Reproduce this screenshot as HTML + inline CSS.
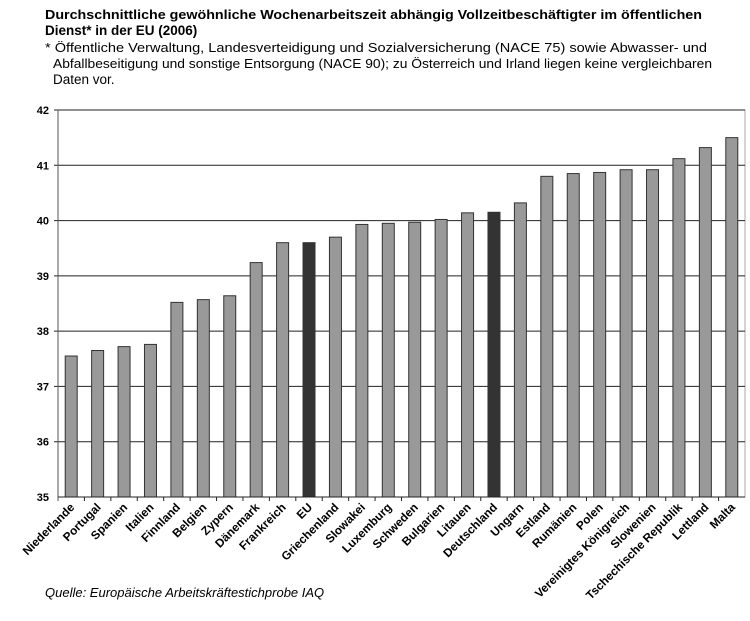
<!DOCTYPE html>
<html><head><meta charset="utf-8"><style>body{margin:0;background:#fff}svg{display:block}</style></head><body>
<svg width="750" height="621" xmlns="http://www.w3.org/2000/svg" font-family="Liberation Sans, Arial, sans-serif">
<text x="45" y="19" font-size="13" font-weight="bold" textLength="657" lengthAdjust="spacingAndGlyphs">Durchschnittliche gewöhnliche Wochenarbeitszeit abhängig Vollzeitbeschäftigter im öffentlichen</text>
<text x="45" y="35" font-size="13.5" font-weight="bold">Dienst* in der EU (2006)</text>
<text x="45" y="52" font-size="13" textLength="662" lengthAdjust="spacingAndGlyphs">* Öffentliche Verwaltung, Landesverteidigung und Sozialversicherung (NACE 75) sowie Abwasser- und</text>
<text x="53" y="68" font-size="13" textLength="659" lengthAdjust="spacingAndGlyphs">Abfallbeseitigung und sonstige Entsorgung (NACE 90); zu Österreich und Irland liegen keine vergleichbaren</text>
<text x="53" y="84" font-size="13.5">Daten vor.</text>

<rect x="58" y="110" width="687" height="387" fill="none" stroke="#aaa"/>
<g stroke="#222">
<line x1="54" x2="745" y1="110" y2="110"/>
<line x1="54" x2="745" y1="165.29" y2="165.29"/>
<line x1="54" x2="745" y1="220.57" y2="220.57"/>
<line x1="54" x2="745" y1="275.86" y2="275.86"/>
<line x1="54" x2="745" y1="331.14" y2="331.14"/>
<line x1="54" x2="745" y1="386.43" y2="386.43"/>
<line x1="54" x2="745" y1="441.71" y2="441.71"/>
</g>
<g font-size="11" font-weight="bold" text-anchor="end">
<text x="49" y="114">42</text><text x="49" y="169.3">41</text><text x="49" y="224.6">40</text><text x="49" y="279.9">39</text><text x="49" y="335.1">38</text><text x="49" y="390.4">37</text><text x="49" y="445.7">36</text><text x="49" y="501">35</text>
</g>
<g fill="#999" stroke="#333">
<rect x="65.21" y="356.02" width="12" height="140.98"/>
<rect x="91.63" y="350.49" width="12" height="146.51"/>
<rect x="118.06" y="346.62" width="12" height="150.38"/>
<rect x="144.48" y="344.41" width="12" height="152.59"/>
<rect x="170.90" y="302.39" width="12" height="194.61"/>
<rect x="197.33" y="299.63" width="12" height="197.37"/>
<rect x="223.75" y="295.76" width="12" height="201.24"/>
<rect x="250.17" y="262.59" width="12" height="234.41"/>
<rect x="276.60" y="242.68" width="12" height="254.32"/>
<rect x="303.02" y="242.68" width="12" height="254.32" fill="#333"/>
<rect x="329.44" y="237.16" width="12" height="259.84"/>
<rect x="355.87" y="224.44" width="12" height="272.56"/>
<rect x="382.29" y="223.33" width="12" height="273.67"/>
<rect x="408.71" y="222.23" width="12" height="274.77"/>
<rect x="435.13" y="219.46" width="12" height="277.54"/>
<rect x="461.56" y="212.83" width="12" height="284.17"/>
<rect x="487.98" y="212.28" width="12" height="284.72" fill="#333"/>
<rect x="514.40" y="202.88" width="12" height="294.12"/>
<rect x="540.83" y="176.34" width="12" height="320.66"/>
<rect x="567.25" y="173.58" width="12" height="323.42"/>
<rect x="593.67" y="172.47" width="12" height="324.53"/>
<rect x="620.10" y="169.71" width="12" height="327.29"/>
<rect x="646.52" y="169.71" width="12" height="327.29"/>
<rect x="672.94" y="158.65" width="12" height="338.35"/>
<rect x="699.37" y="147.59" width="12" height="349.41"/>
<rect x="725.79" y="137.64" width="12" height="359.36"/>
</g>
<line x1="58" x2="58" y1="110" y2="501" stroke="#555"/>
<line x1="58" x2="745" y1="497" y2="497" stroke="#222"/>
<g stroke="#222">
<line x1="84.42" x2="84.42" y1="497" y2="501"/><line x1="110.85" x2="110.85" y1="497" y2="501"/><line x1="137.27" x2="137.27" y1="497" y2="501"/><line x1="163.69" x2="163.69" y1="497" y2="501"/><line x1="190.12" x2="190.12" y1="497" y2="501"/><line x1="216.54" x2="216.54" y1="497" y2="501"/><line x1="242.96" x2="242.96" y1="497" y2="501"/><line x1="269.38" x2="269.38" y1="497" y2="501"/><line x1="295.81" x2="295.81" y1="497" y2="501"/><line x1="322.23" x2="322.23" y1="497" y2="501"/><line x1="348.65" x2="348.65" y1="497" y2="501"/><line x1="375.08" x2="375.08" y1="497" y2="501"/><line x1="401.5" x2="401.5" y1="497" y2="501"/><line x1="427.92" x2="427.92" y1="497" y2="501"/><line x1="454.35" x2="454.35" y1="497" y2="501"/><line x1="480.77" x2="480.77" y1="497" y2="501"/><line x1="507.19" x2="507.19" y1="497" y2="501"/><line x1="533.62" x2="533.62" y1="497" y2="501"/><line x1="560.04" x2="560.04" y1="497" y2="501"/><line x1="586.46" x2="586.46" y1="497" y2="501"/><line x1="612.88" x2="612.88" y1="497" y2="501"/><line x1="639.31" x2="639.31" y1="497" y2="501"/><line x1="665.73" x2="665.73" y1="497" y2="501"/><line x1="692.15" x2="692.15" y1="497" y2="501"/><line x1="718.58" x2="718.58" y1="497" y2="501"/>
</g>
<g font-size="11.8" font-weight="bold" text-anchor="end">
<text transform="translate(75.2,508) rotate(-45)">Niederlande</text>
<text transform="translate(101.6,508) rotate(-45)">Portugal</text>
<text transform="translate(128.1,508) rotate(-45)">Spanien</text>
<text transform="translate(154.5,508) rotate(-45)">Italien</text>
<text transform="translate(180.9,508) rotate(-45)">Finnland</text>
<text transform="translate(207.3,508) rotate(-45)">Belgien</text>
<text transform="translate(233.8,508) rotate(-45)">Zypern</text>
<text transform="translate(260.2,508) rotate(-45)">Dänemark</text>
<text transform="translate(286.6,508) rotate(-45)">Frankreich</text>
<text transform="translate(313,508) rotate(-45)">EU</text>
<text transform="translate(339.4,508) rotate(-45)">Griechenland</text>
<text transform="translate(365.9,508) rotate(-45)">Slowakei</text>
<text transform="translate(392.3,508) rotate(-45)">Luxemburg</text>
<text transform="translate(418.7,508) rotate(-45)">Schweden</text>
<text transform="translate(445.1,508) rotate(-45)">Bulgarien</text>
<text transform="translate(471.6,508) rotate(-45)">Litauen</text>
<text transform="translate(498,508) rotate(-45)">Deutschland</text>
<text transform="translate(524.4,508) rotate(-45)">Ungarn</text>
<text transform="translate(550.8,508) rotate(-45)">Estland</text>
<text transform="translate(577.3,508) rotate(-45)">Rumänien</text>
<text transform="translate(603.7,508) rotate(-45)">Polen</text>
<text transform="translate(630.1,508) rotate(-45)">Vereinigtes Königreich</text>
<text transform="translate(656.5,508) rotate(-45)">Slowenien</text>
<text transform="translate(682.9,508) rotate(-45)">Tschechische Republik</text>
<text transform="translate(709.4,508) rotate(-45)">Lettland</text>
<text transform="translate(735.8,508) rotate(-45)">Malta</text>
</g>
<text x="45" y="597" font-size="13" font-style="italic">Quelle: Europäische Arbeitskräftestichprobe IAQ</text>
</svg>
</body></html>
